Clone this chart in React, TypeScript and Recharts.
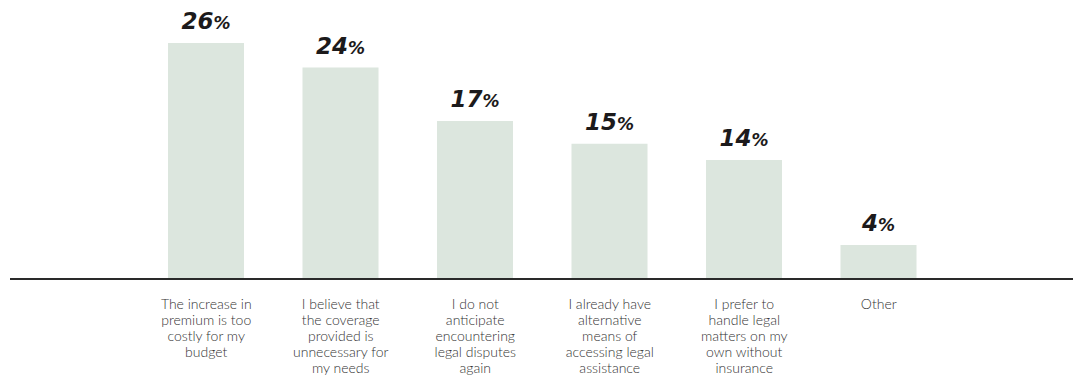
import { BarChart, Bar, XAxis, YAxis, LabelList } from 'recharts';

const categories = [
  ['The increase in', 'premium is too', 'costly for my', 'budget'],
  ['I believe that', 'the coverage', 'provided is', 'unnecessary for', 'my needs'],
  ['I do not', 'anticipate', 'encountering', 'legal disputes', 'again'],
  ['I already have', 'alternative', 'means of', 'accessing legal', 'assistance'],
  ['I prefer to', 'handle legal', 'matters on my', 'own without', 'insurance'],
  ['Other'],
];
// bar heights as drawn (percent)
const values = [26, 23.3, 17.4, 14.9, 13.1, 3.75];
// printed labels
const labels = ['26', '24', '17', '15', '14', '4'];

const data = categories.map((lines, i) => ({
  name: lines.join(' '),
  lines,
  value: values[i],
  label: labels[i],
}));

const CategoryTick = (props: any) => {
  const { x, y, index } = props;
  const lines = categories[index] || [];
  return (
    <text
      x={x}
      y={y + 30}
      textAnchor="middle"
      fill="#333333"
      style={{ fontFamily: 'Lato, "Open Sans", sans-serif', fontSize: 14, fontWeight: 300 }}
    >
      {lines.map((l, i) => (
        <tspan key={i} x={x} dy={i === 0 ? 0 : 16}>
          {l}
        </tspan>
      ))}
    </text>
  );
};

const PctLabel = (props: any) => {
  const { x, y, width, index } = props;
  return (
    <text
      x={x + width / 2}
      y={y - 14}
      textAnchor="middle"
      fill="#1c1a1b"
      style={{ fontFamily: '"DejaVu Sans", sans-serif', fontWeight: 'bold', fontStyle: 'italic' }}
    >
      <tspan style={{ fontSize: 23 }}>{labels[index]}</tspan>
      <tspan style={{ fontSize: 17 }}>%</tspan>
    </text>
  );
};

export default function App() {
  return (
    <div style={{ position: 'absolute', left: 0, top: 0, background: '#fff' }}>
      <BarChart
        width={1073}
        height={377}
        data={data}
        margin={{ top: 43, right: 0, bottom: 0, left: 10 }}
      >
        <XAxis
          dataKey="name"
          height={98}
          padding={{ left: 129, right: 127 }}
          axisLine={{ stroke: '#2a2a2a', strokeWidth: 2 }}
          tickLine={false}
          tickSize={0}
          tickMargin={0}
          interval={0}
          tick={<CategoryTick />}
        />
        <YAxis hide domain={[0, 26]} />
        <Bar dataKey="value" fill="#dce6de" barSize={76} isAnimationActive={false}>
          <LabelList dataKey="label" content={<PctLabel />} />
        </Bar>
      </BarChart>
    </div>
  );
}
